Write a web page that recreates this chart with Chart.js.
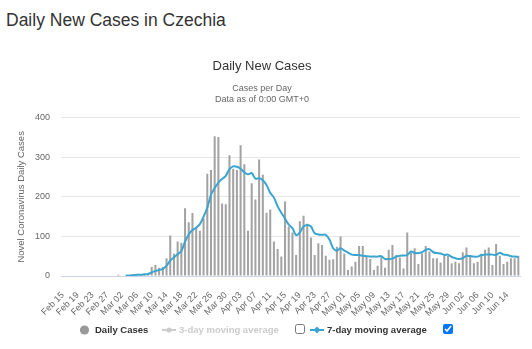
<!DOCTYPE html>
<html>
<head>
<meta charset="utf-8">
<title>Daily New Cases in Czechia</title>
<script src="https://cdn.jsdelivr.net/npm/chart.js@4.4.0/dist/chart.umd.min.js"></script>
<style>
  html, body { margin: 0; padding: 0; background: #fff; }
  body { width: 532px; height: 349px; position: relative; overflow: hidden;
         font-family: "Liberation Sans", Arial, Helvetica, sans-serif; }
  #heading { position: absolute; left: 6px; top: 10px; margin: 0; font-size: 17.5px; line-height: 20px;
             font-weight: normal; color: #333; white-space: nowrap; }
  #chart { position: absolute; left: 0; top: 0; }
  .lg { position: absolute; top: 324px; height: 12px; line-height: 12px; font-size: 9.5px; font-weight: bold; white-space: nowrap; }
  .lg svg { display: block; }
  .lg input { margin: 0; width: 10px; height: 10px; }
</style>
</head>
<body>
<h3 id="heading">Daily New Cases in Czechia</h3>
<canvas id="chart" width="532" height="349"></canvas>

<!-- legend -->
<div class="lg" style="left:79px"><svg width="11" height="12"><circle cx="5.5" cy="6" r="4.6" fill="#999"/></svg></div>
<div class="lg" style="left:95px;color:#333">Daily Cases</div>
<div class="lg" style="left:162px"><svg width="14" height="12"><line x1="0" y1="6" x2="14" y2="6" stroke="#ccc" stroke-width="2"/><circle cx="7" cy="6" r="2.6" fill="#ccc"/></svg></div>
<div class="lg" style="left:179px;color:#ccc">3-day moving average</div>
<div class="lg" style="left:295px"><input type="checkbox"></div>
<div class="lg" style="left:310px"><svg width="14" height="12"><line x1="0" y1="6" x2="14" y2="6" stroke="#3aa6d0" stroke-width="2"/><path d="M7 2.5 L10.5 6 L7 9.5 L3.5 6 Z" fill="#3aa6d0"/></svg></div>
<div class="lg" style="left:327px;color:#333">7-day moving average</div>
<div class="lg" style="left:443px"><input type="checkbox" checked></div>

<script>
// ── DATA ──
const START = new Date(2020, 1, 15);   // Feb 15
const DAYS = 124;                      // through Jun 17
const MONTHS = ["Jan","Feb","Mar","Apr","May","Jun","Jul","Aug","Sep","Oct","Nov","Dec"];

const dateLabels = [];
for (let i = 0; i < DAYS; i++) {
  const d = new Date(START.getFullYear(), START.getMonth(), START.getDate() + i);
  dateLabels.push(MONTHS[d.getMonth()] + " " + String(d.getDate()).padStart(2, "0"));
}

const casesFeb = [0,0,0,0,0, 0,0,0,0,0, 0,0,0,0,0];
const casesMar = [3,0,2,0,3,5,3,6,4,23, 28,21,23,45,102,56,87,84,171,136, 159,122,114,145,258,268,353,351,183,181,305];
const casesApr = [271,268,330,282,114,234,193,294,256,160, 168,87,68,49,188,125,110,53,138,152, 132,97,53,83,78,51,41,42,74,100];
const casesMay = [57,15,24,36,76,76,49,43,15,26, 49,21,66,78,53,47,19,110,59,70, 30,57,76,62,45,45,34,51,51,32,36];
const casesJun = [32,60,72,53,32,36,56,66,72,28, 81,51,30,36,45,45,51];

const avgFeb = [null,null,null,null,null, null,null,null,null,null, null,null,null,null,null];
const avgMar = [null,null,1,1,2,3,3,4,5,9, 13,15,18,26,39,47,55,63,87,105, 116,122,131,150,172,205,222,236,245,253,270];
const avgApr = [277,276,271,262,257,260,246,247,242,230, 210,198,176,160,145,130,121,103,110,125, 129,125,108,105,104,104,92,70,64,70];
const avgMay = [64,59,54,53,53,51,50,49,49,49, 50,43,43,44,49,51,52,53,62,58, 58,60,66,68,60,58,57,53,54,48,45];
const avgJun = [43,45,51,50,49,49,53,54,54,54, 53,59,54,53,50,49,48];

const dailyCases = [...casesFeb, ...casesMar, ...casesApr, ...casesMay, ...casesJun];
const movingAvg7 = [...avgFeb, ...avgMar, ...avgApr, ...avgMay, ...avgJun];
const yTicks = { min: 0, max: 400, step: 100 };

// ── CHART ──
const FONT = '"Liberation Sans", Arial, Helvetica, sans-serif';
Chart.defaults.font.family = FONT;

new Chart(document.getElementById("chart").getContext("2d"), {
  data: {
    labels: dateLabels,
    datasets: [
      {
        type: "line",
        label: "7-day moving average",
        data: movingAvg7,
        borderColor: "#3aa6d0",
        borderWidth: 2,
        pointRadius: 0,
        tension: 0.35,
        order: 1
      },
      {
        type: "bar",
        label: "Daily Cases",
        data: dailyCases,
        backgroundColor: "#a3a3a3",
        barPercentage: 0.55,
        categoryPercentage: 1,
        order: 2
      }
    ]
  },
  options: {
    responsive: false,
    animation: false,
    layout: { padding: { left: 0, right: 8, top: 0, bottom: 0 } },
    plugins: {
      legend: { display: false },
      tooltip: { enabled: false },
      title: {
        display: true,
        text: "Daily New Cases",
        color: "#333",
        font: { size: 13, weight: "normal", lineHeight: 1.2 },
        padding: { top: 59, bottom: 9 }
      },
      subtitle: {
        display: true,
        text: ["Cases per Day", "Data as of 0:00 GMT+0"],
        color: "#666",
        font: { size: 9, lineHeight: 1.17 },
        padding: { top: 0, bottom: 13 }
      }
    },
    scales: {
      x: {
        grid: { display: false },
        border: { display: true, color: "#ccd6eb" },
        ticks: {
          autoSkip: false,
          minRotation: 45,
          maxRotation: 45,
          color: "#666",
          font: { size: 9 },
          padding: 6,
          callback: (v, i) => (i % 4 === 0 ? dateLabels[i] : "")
        },
        afterFit: s => { s.height = 73; }
      },
      y: {
        min: yTicks.min,
        max: yTicks.max,
        ticks: { stepSize: yTicks.step, color: "#666", font: { size: 9 }, padding: 11 },
        grid: { color: "#e6e6e6", drawTicks: false },
        border: { display: false },
        title: {
          display: true,
          text: "Novel Coronavirus Daily Cases",
          color: "#666",
          font: { size: 9.5 },
          padding: { top: 16, bottom: 0 }
        },
        afterFit: s => { s.width = 61; }
      }
    }
  }
});
</script>
</body>
</html>
